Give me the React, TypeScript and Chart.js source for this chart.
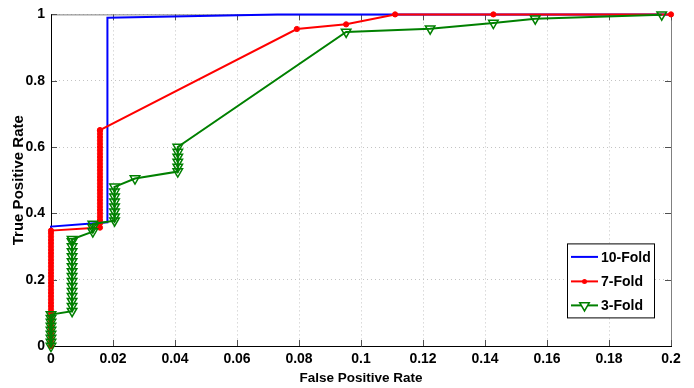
import React, { useEffect, useRef } from "react";
import { Chart, registerables } from "chart.js";

Chart.register(...registerables);

// ---- Data ----
const seriesLabels = ["10-Fold", "7-Fold", "3-Fold"];
const seriesColors = ["#0000ff", "#ff0000", "#008000"];

const fold10X = [0, 0, 0.0182, 0.0182, 0.073, 0.2];
const fold10Y = [0, 0.36, 0.373, 0.99, 1.0, 1.0];

const fold7X = [
  0, 0, 0, 0, 0, 0, 0, 0, 0, 0, 0, 0, 0, 0, 0, 0, 0, 0, 0, 0, 0, 0, 0, 0, 0, 0, 0, 0, 0, 0, 0, 0, 0, 0, 0, 0,
  0.0158, 0.0158, 0.0158, 0.0158, 0.0158, 0.0158, 0.0158, 0.0158, 0.0158, 0.0158, 0.0158, 0.0158, 0.0158, 0.0158,
  0.0158, 0.0158, 0.0158, 0.0158, 0.0158, 0.0158, 0.0158, 0.0158, 0.0158, 0.0158, 0.0158, 0.0158, 0.0158, 0.0158,
  0.0158, 0.0158, 0.0158,
  0.0793, 0.0952, 0.111, 0.1427, 0.2,
];
const fold7Y = [
  0, 0.01, 0.02, 0.03, 0.04, 0.05, 0.06, 0.07, 0.08, 0.09, 0.1, 0.11, 0.12, 0.13, 0.14, 0.15, 0.16, 0.17, 0.18,
  0.19, 0.2, 0.21, 0.22, 0.23, 0.24, 0.25, 0.26, 0.27, 0.28, 0.29, 0.3, 0.31, 0.32, 0.33, 0.34, 0.348,
  0.357, 0.37, 0.38, 0.39, 0.4, 0.41, 0.42, 0.43, 0.44, 0.45, 0.46, 0.47, 0.48, 0.49, 0.5, 0.51, 0.52, 0.53,
  0.54, 0.55, 0.56, 0.57, 0.58, 0.59, 0.6, 0.61, 0.62, 0.63, 0.64, 0.65, 0.651,
  0.956, 0.97, 1.0, 1.0, 1.0,
];

const fold3X = [
  0, 0, 0, 0, 0, 0, 0, 0, 0,
  0.0068, 0.0068, 0.0068, 0.0068, 0.0068, 0.0068, 0.0068, 0.0068, 0.0068, 0.0068, 0.0068, 0.0068, 0.0068,
  0.0068, 0.0068, 0.0068,
  0.0135, 0.0135, 0.0135,
  0.0205, 0.0205, 0.0205, 0.0205, 0.0205, 0.0205, 0.0205, 0.0205,
  0.0271,
  0.0409, 0.0409, 0.0409, 0.0409, 0.0409, 0.0409,
  0.0952, 0.1223, 0.1427, 0.1562, 0.197,
];
const fold3Y = [
  0, 0.012, 0.024, 0.036, 0.048, 0.06, 0.072, 0.084, 0.095,
  0.105, 0.12, 0.135, 0.15, 0.165, 0.18, 0.195, 0.21, 0.225, 0.24, 0.255, 0.27, 0.285, 0.3, 0.315, 0.322,
  0.345, 0.357, 0.368,
  0.378, 0.39, 0.405, 0.42, 0.435, 0.45, 0.465, 0.48,
  0.505,
  0.526, 0.54, 0.555, 0.57, 0.585, 0.6,
  0.947, 0.957, 0.974, 0.987, 0.999,
];

const xTitle = "False Positive Rate";
const yTitle = "True Positive Rate";

const FONT = "'Liberation Sans', Arial, sans-serif";

const toPoints = (xs: number[], ys: number[]) => xs.map((x, i) => ({ x, y: ys[i] }));
const fmt = (v: any) => String(Math.round(Number(v) * 100) / 100);

const framePlugin = {
  id: "frameAndLegend",
  beforeDatasetsDraw(chart: any) {
    const { ctx, chartArea } = chart;
    const { left, right, top, bottom } = chartArea;
    const xs = chart.scales.x;
    const ys = chart.scales.y;
    ctx.save();
    ctx.lineWidth = 1;
    ctx.strokeStyle = "#808080";
    ctx.beginPath();
    ctx.moveTo(left, top + 0.5);
    ctx.lineTo(right + 0.5, top + 0.5);
    ctx.lineTo(right + 0.5, bottom);
    ctx.stroke();
    const tl = 6;
    ctx.strokeStyle = "#505050";
    ctx.beginPath();
    xs.ticks.forEach((t: any) => {
      const px = Math.round(xs.getPixelForValue(t.value)) + 0.5;
      ctx.moveTo(px, bottom);
      ctx.lineTo(px, bottom - tl);
      ctx.moveTo(px, top);
      ctx.lineTo(px, top + tl);
    });
    ys.ticks.forEach((t: any) => {
      const py = Math.round(ys.getPixelForValue(t.value)) + 0.5;
      ctx.moveTo(left, py);
      ctx.lineTo(left + tl, py);
      ctx.moveTo(right, py);
      ctx.lineTo(right - tl, py);
    });
    ctx.stroke();
    ctx.strokeStyle = "#000000";
    ctx.beginPath();
    ctx.moveTo(left + 0.5, top);
    ctx.lineTo(left + 0.5, bottom + 0.5);
    ctx.lineTo(right + 1, bottom + 0.5);
    ctx.stroke();
    ctx.restore();
  },
  afterDatasetsDraw(chart: any) {
    const { ctx, chartArea } = chart;
    const { right, top } = chartArea;
    ctx.save();
    const bx = right - 104;
    const by = top + 229;
    const bw = 87;
    const bh = 74;
    ctx.fillStyle = "#ffffff";
    ctx.fillRect(bx, by, bw, bh);
    ctx.strokeStyle = "#000000";
    ctx.lineWidth = 1;
    ctx.strokeRect(bx + 0.5, by + 0.5, bw, bh);
    ctx.font = `bold 14px ${FONT}`;
    ctx.textBaseline = "middle";
    ctx.textAlign = "left";
    const rows = [by + 13.5, by + 38, by + 62];
    seriesLabels.forEach((lab, i) => {
      const cy = rows[i];
      const x0 = bx + 4;
      const x1 = bx + 31;
      ctx.strokeStyle = seriesColors[i];
      ctx.lineWidth = 2;
      ctx.beginPath();
      ctx.moveTo(x0, cy);
      ctx.lineTo(x1, cy);
      ctx.stroke();
      const mx = (x0 + x1) / 2;
      if (i === 1) {
        ctx.fillStyle = seriesColors[i];
        ctx.beginPath();
        ctx.arc(mx, cy, 2.5, 0, Math.PI * 2);
        ctx.fill();
      } else if (i === 2) {
        const r = 5.5;
        ctx.lineWidth = 1.5;
        ctx.fillStyle = "#ffffff";
        ctx.beginPath();
        ctx.moveTo(mx - r * 0.866, cy - r * 0.5);
        ctx.lineTo(mx + r * 0.866, cy - r * 0.5);
        ctx.lineTo(mx, cy + r);
        ctx.closePath();
        ctx.fill();
        ctx.stroke();
      }
      ctx.fillStyle = "#000000";
      ctx.fillText(lab, bx + 34, cy + 1);
    });
    ctx.restore();
  },
};

export default function App() {
  const ref = useRef<HTMLCanvasElement | null>(null);

  useEffect(() => {
    if (!ref.current) return;
    const chart = new Chart(ref.current, {
      type: "line",
      data: {
        datasets: [
          {
            label: seriesLabels[0],
            data: toPoints(fold10X, fold10Y),
            borderColor: seriesColors[0],
            backgroundColor: seriesColors[0],
            borderWidth: 2,
            pointRadius: 0,
            tension: 0,
            clip: false,
            order: 2,
          },
          {
            label: seriesLabels[1],
            data: toPoints(fold7X, fold7Y),
            borderColor: seriesColors[1],
            backgroundColor: seriesColors[1],
            borderWidth: 2,
            pointStyle: "circle",
            pointRadius: 2.6,
            pointBackgroundColor: seriesColors[1],
            pointBorderColor: seriesColors[1],
            pointBorderWidth: 1,
            tension: 0,
            clip: false,
            order: 1,
          },
          {
            label: seriesLabels[2],
            data: toPoints(fold3X, fold3Y),
            borderColor: seriesColors[2],
            backgroundColor: "rgba(0,0,0,0)",
            borderWidth: 2,
            pointStyle: "triangle",
            pointRotation: 180,
            pointRadius: 5.5,
            pointBackgroundColor: "rgba(0,0,0,0)",
            pointBorderColor: seriesColors[2],
            pointBorderWidth: 1.5,
            tension: 0,
            clip: false,
            order: 0,
          },
        ],
      },
      options: {
        animation: false,
        responsive: false,
        maintainAspectRatio: false,
        layout: { padding: { top: 14, right: 23, left: 0, bottom: 0 } },
        plugins: { legend: { display: false }, tooltip: { enabled: false } },
        elements: { line: { tension: 0 } },
        scales: {
          x: {
            type: "linear",
            min: 0,
            max: 0.2,
            afterFit: (s: any) => {
              s.height = 42;
            },
            ticks: {
              stepSize: 0.02,
              autoSkip: false,
              maxRotation: 0,
              padding: 5,
              color: "#000000",
              font: { family: FONT, size: 14, weight: "bold" },
              callback: fmt,
            },
            grid: { color: "#c4c4c4", lineWidth: 1, drawTicks: false },
            border: { display: false, dash: [1, 3] },
            title: {
              display: true,
              text: xTitle,
              color: "#000000",
              font: { family: FONT, size: 13.5, weight: "bold" },
              padding: { top: 0, bottom: 2 },
            },
          },
          y: {
            type: "linear",
            min: 0,
            max: 1,
            afterFit: (s: any) => {
              s.width = 51;
            },
            ticks: {
              stepSize: 0.2,
              autoSkip: false,
              padding: 6,
              color: "#000000",
              font: { family: FONT, size: 14, weight: "bold" },
              callback: fmt,
            },
            grid: { color: "#c4c4c4", lineWidth: 1, drawTicks: false },
            border: { display: false, dash: [1, 3] },
            title: {
              display: true,
              text: yTitle,
              color: "#000000",
              font: { family: FONT, size: 15, weight: "bold" },
              padding: { top: 10, bottom: 0 },
            },
          },
        },
      },
      plugins: [framePlugin],
    } as any);
    return () => chart.destroy();
  }, []);

  return (
    <div style={{ position: "fixed", left: 0, top: 0, width: 694, height: 388, background: "#ffffff" }}>
      <canvas ref={ref} width={694} height={388} style={{ width: 694, height: 388, display: "block" }} />
    </div>
  );
}
